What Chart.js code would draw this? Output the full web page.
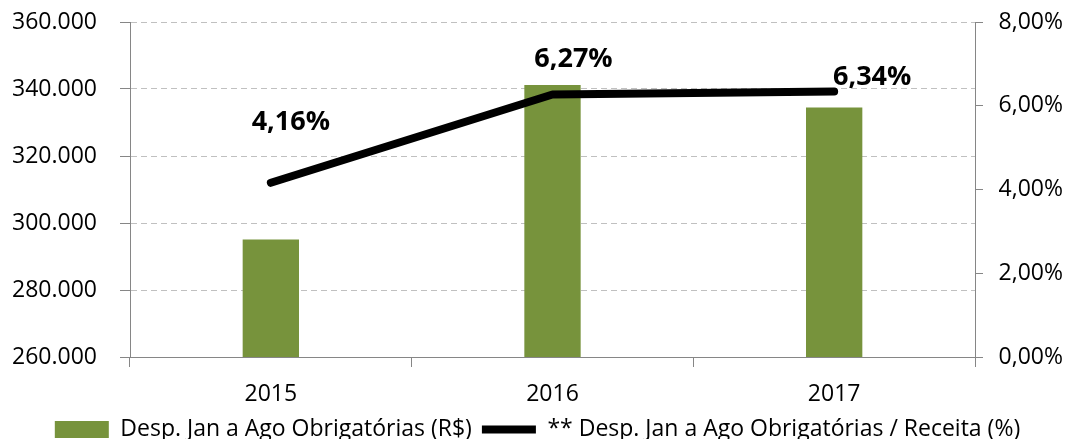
<!DOCTYPE html>
<html>
<head>
<meta charset="utf-8">
<script src="https://cdn.jsdelivr.net/npm/chart.js@4.4.1/dist/chart.umd.min.js"></script>
<style>
  body { margin: 0; background: #fff; }
  #wrap { width: 1067px; height: 439px; }
</style>
</head>
<body>
<div id="wrap"><canvas id="despChart" width="1067" height="439"></canvas></div>
<script>
// data
const years = ['2015', '2016', '2017'];
const despesas = [295100, 341200, 334500];   // R$ (mil)
const percReceita = [4.16, 6.27, 6.34];      // %

const despLabel = 'Desp. Jan a Ago Obrigatórias (R$)';
const percLabel = '** Desp. Jan a Ago Obrigatórias / Receita (%)';

const fontFamily = "'Open Sans', 'Noto Sans', sans-serif";
const axisGrey = '#868686';

function fmtThousands(v) {
    return Math.round(v / 1000) + '.000';
}
function fmtPct(v) {
    return v.toFixed(2).replace('.', ',') + '%';
}

// draws the bold % labels next to the line points
const pctLabels = {
    id: 'pctLabels',
    afterDatasetsDraw(chart, args, opts) {
        const ctx = chart.ctx;
        const meta = chart.getDatasetMeta(1);
        ctx.save();
        ctx.font = 'bold 27px ' + fontFamily;
        ctx.fillStyle = '#000';
        ctx.textAlign = 'center';
        ctx.textBaseline = 'middle';
        meta.data.forEach((pt, i) => {
            const off = opts.offsets[i];
            ctx.fillText(fmtPct(percReceita[i]), pt.x + off[0], pt.y + off[1]);
        });
        ctx.restore();
    }
};

const data = {
    labels: years,
    datasets: [{
        type: 'bar',
        label: despLabel,
        data: despesas,
        backgroundColor: '#77933C',
        borderWidth: 0,
        barPercentage: 0.2,
        categoryPercentage: 1,
        yAxisID: 'y',
        order: 1,
        pointStyle: 'rect'
    }, {
        type: 'line',
        label: percLabel,
        data: percReceita,
        borderColor: '#000',
        backgroundColor: '#000',
        borderWidth: 8,
        borderCapStyle: 'round',
        borderJoinStyle: 'round',
        pointRadius: 0,
        tension: 0,
        yAxisID: 'y1',
        order: 0,
        pointStyle: 'line'
    }]
};

const config = {
    data,
    plugins: [pctLabels],
    options: {
        responsive: false,
        animation: false,
        layout: { padding: { top: 22, left: 12, right: 4, bottom: -12 } },
        plugins: {
            tooltip: { enabled: false },
            pctLabels: { offsets: [[20, -60], [21, -35], [38, -14]] },
            legend: {
                position: 'bottom',
                labels: {
                    usePointStyle: true,
                    pointStyleWidth: 54,
                    boxHeight: 17,
                    padding: 10,
                    color: '#000',
                    font: { family: fontFamily, size: 23 },
                    sort: (a, b) => a.datasetIndex - b.datasetIndex
                }
            }
        },
        scales: {
            x: {
                offset: true,
                afterFit(scale) { scale.height = 51; },
                grid: {
                    display: true,
                    drawOnChartArea: false,
                    drawTicks: true,
                    tickLength: 10,
                    tickColor: axisGrey,
                    color: axisGrey
                },
                border: { color: axisGrey },
                ticks: {
                    color: '#000',
                    padding: 14,
                    font: { family: fontFamily, size: 23 }
                }
            },
            y: {
                position: 'left',
                min: 260000,
                max: 360000,
                afterFit(scale) { scale.width = 118; },
                grid: {
                    color: '#C0C0C0',
                    tickBorderDash: [],
                    tickColor: axisGrey,
                    tickLength: 10
                },
                border: { color: axisGrey, dash: [6, 4] },
                ticks: {
                    stepSize: 20000,
                    padding: 0,
                    crossAlign: 'far',
                    color: '#000',
                    font: { family: fontFamily, size: 23 },
                    callback: (v) => fmtThousands(v)
                }
            },
            y1: {
                position: 'right',
                min: 0,
                max: 8,
                afterFit(scale) { scale.width = 88; },
                grid: {
                    drawOnChartArea: false,
                    tickColor: axisGrey,
                    tickLength: 8
                },
                border: { color: axisGrey },
                ticks: {
                    stepSize: 2,
                    padding: 0,
                    crossAlign: 'far',
                    color: '#000',
                    font: { family: fontFamily, size: 23 },
                    callback: (v) => fmtPct(v)
                }
            }
        }
    }
};

const despChart = new Chart(document.getElementById('despChart'), config);
</script>
</body>
</html>
